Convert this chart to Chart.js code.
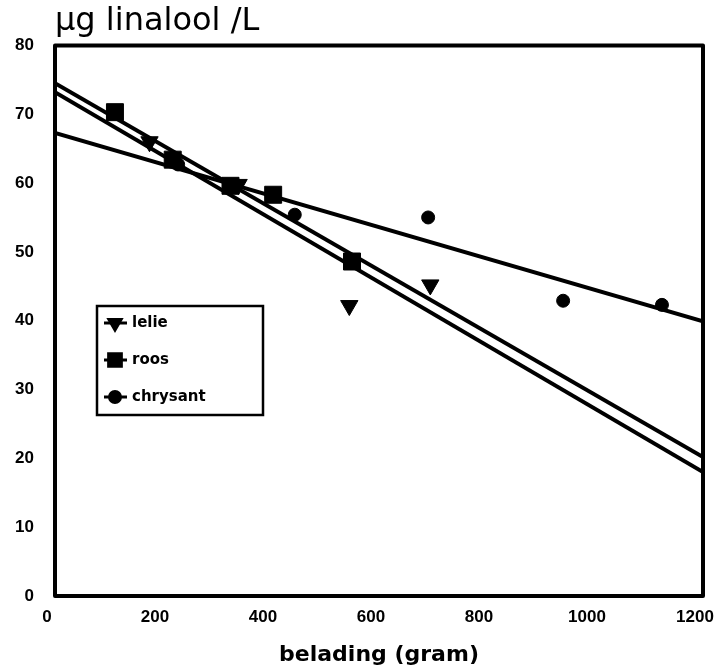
<!DOCTYPE html>
<html>
<head>
<meta charset="utf-8">
<script src="https://cdn.jsdelivr.net/npm/chart.js@4/dist/chart.umd.min.js"></script>
<style>
  html, body { margin: 0; padding: 0; background: #fff; }
  #wrap { width: 717px; height: 668px; }
</style>
</head>
<body>
<div id="wrap"><canvas id="c" width="717" height="668"></canvas></div>
<script>
// ---- data ----
const seriesNames = ['lelie', 'roos', 'chrysant'];

const lelieX = [175, 340, 545, 695];
const lelieY = [66.0, 59.8, 42.2, 45.2];

const roosX = [111, 325, 218, 404, 550];
const roosY = [70.3, 59.6, 63.4, 58.3, 48.6];

const chrysantX = [228, 444, 691, 941, 1124];
const chrysantY = [62.7, 55.4, 55.0, 42.9, 42.3];

// fitted regression lines (end values at x = 0 and x = 1200)
const fitX = [0, 1200];
const fitLelie = [73.2, 18.0];
const fitRoos = [74.5, 20.2];
const fitChrysant = [67.3, 39.9];

const yTitle = 'µg linalool /L';
const xTitle = 'belading (gram)';
const xMin = 0, xMax = 1200, xStep = 200;
const yMin = 0, yMax = 80, yStep = 10;

// ---- build datasets ----
const pts = (xs, ys) => xs.map((x, i) => ({ x: x, y: ys[i] }));

const markerStyles = {
  lelie: { pointStyle: 'triangle', rotation: 180, radius: 10 },
  roos: { pointStyle: 'rect', rotation: 0, radius: 12 },
  chrysant: { pointStyle: 'circle', rotation: 0, radius: 6.5 }
};

function fitDataset(label, ys) {
  return {
    label: label + ' fit',
    data: pts(fitX, ys),
    showLine: true,
    borderColor: '#000',
    borderWidth: 4,
    pointRadius: 0,
    fill: false,
    order: 2
  };
}
function pointDataset(label, xs, ys) {
  const m = markerStyles[label];
  return {
    label: label,
    data: pts(xs, ys),
    showLine: false,
    pointStyle: m.pointStyle,
    pointRotation: m.rotation,
    pointRadius: m.radius,
    pointHoverRadius: m.radius,
    backgroundColor: '#000',
    borderColor: '#000',
    borderWidth: 1,
    order: 1
  };
}

const datasets = [
  fitDataset('lelie', fitLelie),
  fitDataset('roos', fitRoos),
  fitDataset('chrysant', fitChrysant),
  pointDataset('lelie', lelieX, lelieY),
  pointDataset('roos', roosX, roosY),
  pointDataset('chrysant', chrysantX, chrysantY)
];

// ---- plugins: frame and boxed legend inside plot ----
const framePlugin = {
  id: 'frame',
  beforeDatasetsDraw(chart) {
    const { ctx, chartArea: a } = chart;
    ctx.save();
    ctx.strokeStyle = '#000';
    ctx.lineWidth = 4;
    ctx.lineJoin = 'round';
    ctx.strokeRect(a.left, a.top, a.right - a.left, a.bottom - a.top);
    ctx.restore();
  }
};

const boxLegendPlugin = {
  id: 'boxLegend',
  afterDraw(chart) {
    const { ctx } = chart;
    const box = { x: 97, y: 306, w: 166, h: 109 };
    ctx.save();
    ctx.fillStyle = '#fff';
    ctx.fillRect(box.x, box.y, box.w, box.h);
    ctx.strokeStyle = '#000';
    ctx.lineWidth = 2.5;
    ctx.strokeRect(box.x, box.y, box.w, box.h);
    const rowY = [323, 360, 397];
    const sizes = { lelie: 7, roos: 9, chrysant: 5.5 };
    chart.data.datasets.filter(d => !d.showLine).forEach((d, i) => {
      const y = rowY[i];
      ctx.strokeStyle = '#000';
      ctx.lineWidth = 3;
      ctx.beginPath();
      ctx.moveTo(104, y);
      ctx.lineTo(127, y);
      ctx.stroke();
      ctx.fillStyle = '#000';
      Chart.helpers.drawPoint(ctx, {
        pointStyle: d.pointStyle,
        rotation: d.pointRotation,
        radius: sizes[d.label],
        borderWidth: 1
      }, 115, y);
      ctx.fill();
      ctx.fillStyle = '#000';
      ctx.font = 'bold 15px "DejaVu Sans"';
      ctx.textBaseline = 'middle';
      ctx.textAlign = 'left';
      ctx.fillText(d.label, 132, y);
    });
    ctx.restore();
  }
};

const tickFont = { family: '"Liberation Sans", Arial, sans-serif', size: 17, weight: 'bold' };

new Chart(document.getElementById('c'), {
  type: 'scatter',
  data: { datasets: datasets },
  options: {
    responsive: false,
    animation: false,
    events: [],
    layout: { padding: { left: 0, right: 14, top: 0, bottom: 0 } },
    plugins: {
      legend: { display: false },
      tooltip: { enabled: false },
      title: {
        display: true,
        text: yTitle,
        align: 'start',
        fullSize: false,
        color: '#000',
        font: { family: '"DejaVu Sans", sans-serif', size: 32, weight: 'normal' },
        padding: { top: 2, bottom: 5 }
      }
    },
    scales: {
      x: {
        type: 'linear',
        min: xMin,
        max: xMax,
        ticks: {
          stepSize: xStep, color: '#000', font: tickFont, padding: 11, maxRotation: 0,
          labelOffset: -8,
          callback: (v) => String(v)
        },
        grid: { display: false, drawTicks: false },
        border: { display: false },
        title: {
          display: true,
          text: xTitle,
          color: '#000',
          font: { family: '"DejaVu Sans", sans-serif', size: 22, weight: 'bold' },
          padding: { top: 0, bottom: 0 }
        },
        afterFit(scale) { scale.height = 72; scale.paddingLeft = 0; scale.paddingRight = 0; }
      },
      y: {
        type: 'linear',
        min: yMin,
        max: yMax,
        ticks: { stepSize: yStep, color: '#000', font: tickFont, padding: 21 },
        grid: { display: false, drawTicks: false },
        border: { display: false },
        afterFit(scale) { scale.width = 55; scale.paddingTop = 0; scale.paddingBottom = 0; }
      }
    }
  },
  plugins: [framePlugin, boxLegendPlugin]
});
</script>
</body>
</html>
